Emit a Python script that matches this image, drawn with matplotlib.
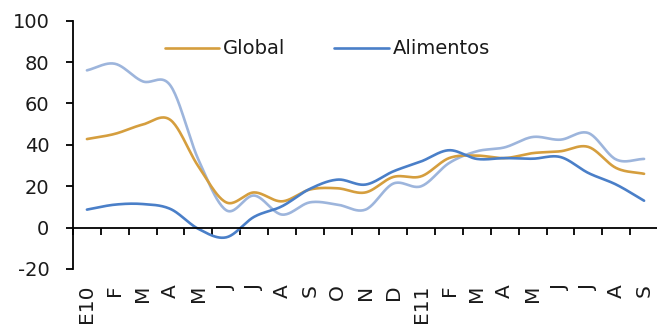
import numpy as np
import matplotlib
matplotlib.use('Agg')
import matplotlib.pyplot as plt

meses = ['E10', 'F', 'M', 'A', 'M', 'J', 'J', 'A', 'S', 'O', 'N', 'D',
         'E11', 'F', 'M', 'A', 'M', 'J', 'J', 'A', 'S']
global_ = [42.8, 45.3, 49.8, 52.0, 29.6, 12.2, 17.0, 12.7, 18.4, 19.0, 17.0,
           24.5, 24.8, 33.6, 34.8, 33.6, 36.0, 36.9, 39.0, 28.8, 26.0]
alimentos = [8.7, 11.1, 11.4, 9.0, -0.6, -4.7, 5.2, 10.3, 18.7, 23.2, 20.8,
             27.2, 32.0, 37.4, 33.2, 33.6, 33.3, 34.1, 26.4, 20.8, 13.0]
otros = [76.0, 79.2, 70.7, 68.6, 32.9, 8.4, 15.5, 6.3, 12.2, 11.1, 8.7,
         21.3, 20.0, 31.2, 36.9, 38.8, 43.8, 42.5, 45.7, 32.9, 33.2]

C_GLOBAL = '#D59E3E'
C_ALIM = '#4A7FC8'
C_OTROS = '#9DB5DC'
C_TEXTO = '#1a1a1a'


def suave(x, y, n=24):
    # curva tipo Catmull-Rom, como la linea suavizada de Excel
    x = np.asarray(x, float)
    y = np.asarray(y, float)
    px = np.concatenate([[2 * x[0] - x[1]], x, [2 * x[-1] - x[-2]]])
    py = np.concatenate([[2 * y[0] - y[1]], y, [2 * y[-1] - y[-2]]])
    xs, ys = [], []
    t = np.linspace(0, 1, n, endpoint=False)
    for i in range(1, len(px) - 2):
        for p, out in ((px, xs), (py, ys)):
            p0, p1, p2, p3 = p[i - 1], p[i], p[i + 1], p[i + 2]
            out.extend(0.5 * (2 * p1 + (-p0 + p2) * t
                              + (2 * p0 - 5 * p1 + 4 * p2 - p3) * t ** 2
                              + (-p0 + 3 * p1 - 3 * p2 + p3) * t ** 3))
    xs.append(x[-1])
    ys.append(y[-1])
    return np.array(xs), np.array(ys)


plt.rcParams['font.family'] = 'DejaVu Sans'
plt.rcParams['font.size'] = 14
plt.rcParams['axes.unicode_minus'] = False

fig = plt.figure(figsize=(6.57, 3.28), dpi=100)
ax = fig.add_axes([73 / 657, 1 - 269 / 328, 585 / 657, (269 - 20.7) / 328])

x = np.arange(len(meses))
sx, sy = suave(x, otros)
ax.plot(sx, sy, color=C_OTROS, lw=1.9, solid_capstyle='round')
sx, sy = suave(x, global_)
ax.plot(sx, sy, color=C_GLOBAL, lw=1.9, label='Global', solid_capstyle='round')
sx, sy = suave(x, alimentos)
ax.plot(sx, sy, color=C_ALIM, lw=1.9, label='Alimentos', solid_capstyle='round')

ax.set_xlim(-0.5, len(meses) - 0.5)
ax.set_ylim(-20, 100)
ax.set_yticks(range(-20, 101, 20))

for s in ['top', 'right']:
    ax.spines[s].set_visible(False)
ax.spines['bottom'].set_position(('data', 0))
ax.spines['left'].set_linewidth(1.3)
ax.spines['bottom'].set_linewidth(1.3)

ax.set_xticks(np.arange(len(meses) + 1) - 0.5)
ax.set_xticklabels([])
ax.tick_params(axis='x', direction='out', length=5, width=1.3)
ax.tick_params(axis='y', direction='out', length=5, width=1.3, pad=12,
               labelcolor=C_TEXTO, labelsize=14)

trans = ax.get_xaxis_transform()
for i, m in enumerate(meses):
    ax.text(i, -0.062, m, transform=trans, rotation=90, ha='center', va='top',
            color=C_TEXTO, fontsize=14.5, clip_on=False)

ax.legend(ncol=2, frameon=False, loc='center left',
          bbox_to_anchor=(165 / 657, 1 - 49 / 328), bbox_transform=fig.transFigure,
          borderpad=0, borderaxespad=0, handlelength=2.8, handletextpad=0.2,
          columnspacing=2.5, fontsize=14, labelcolor=C_TEXTO)

fig.savefig('out.png', dpi=100)
